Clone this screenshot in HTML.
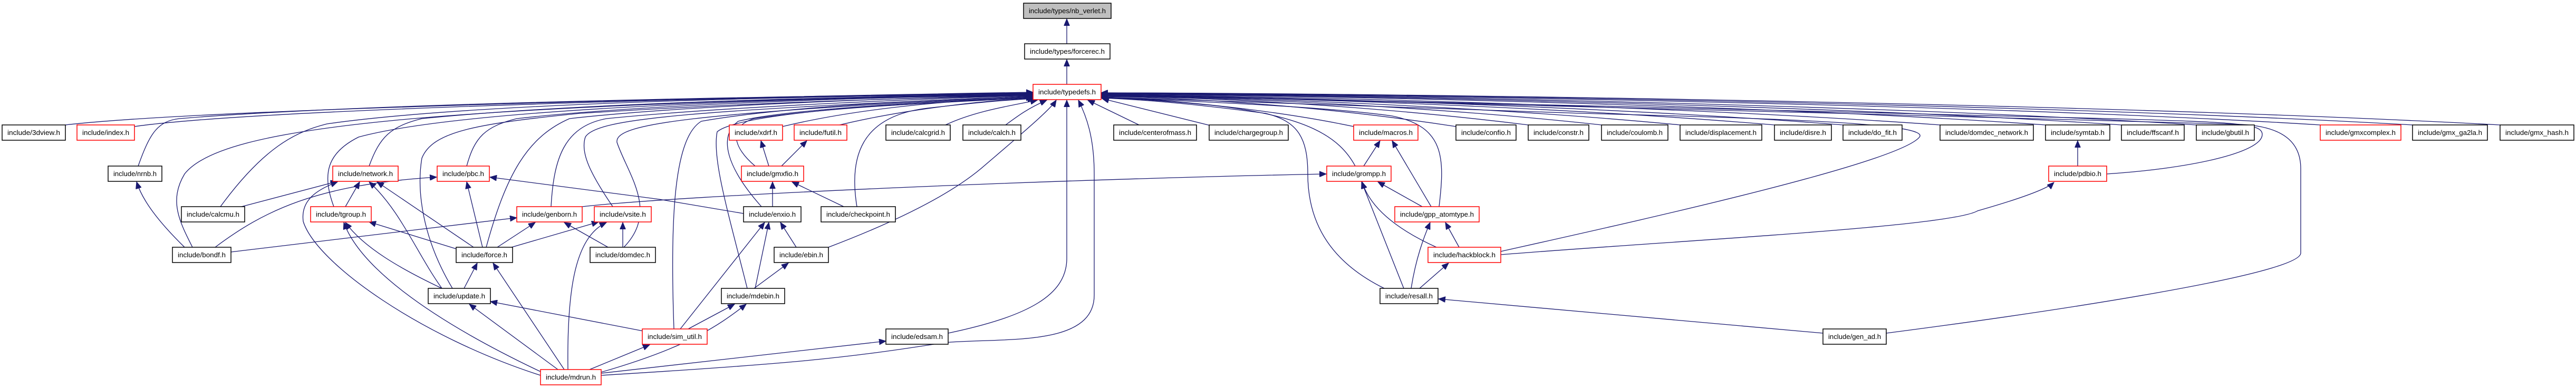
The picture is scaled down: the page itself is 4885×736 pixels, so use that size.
<!DOCTYPE html>
<html><head><meta charset="utf-8"><style>
html,body{margin:0;padding:0;background:#fff;}
svg{display:block;}
text{font-family:"Liberation Sans",sans-serif;font-size:13px;fill:#000;}
.e{fill:none;stroke:#191970;stroke-width:1.3;marker-end:url(#a);}
.b{fill:#fff;stroke:#000;stroke-width:1.5;}
.r{fill:#fff;stroke:#ff0000;stroke-width:1.5;}
</style></head><body>
<svg width="4885" height="736" viewBox="0 0 4885 736" xmlns="http://www.w3.org/2000/svg">
<defs><marker id="a" markerUnits="userSpaceOnUse" markerWidth="14" markerHeight="11" refX="13" refY="5.5" orient="auto"><path d="M0,0 L13,5.5 L0,11 Z" fill="#191970" stroke="#191970"/></marker></defs>
<g>
<path class="e" d="M2023,83 L2023,36"/>
<path class="e" d="M2023,160 L2023,113"/>
<path class="e" d="M124,237 C400,205 1500,182 1959,175"/>
<path class="e" d="M255,240 C500,205 1500,182 1959,176"/>
<path class="e" d="M262,315 C285,250 300,230 340,225 C700,195 1500,182 1959,177"/>
<path class="e" d="M365,469 C340,420 320,380 350,330 C420,240 800,200 1959,178"/>
<path class="e" d="M418,392 C500,280 560,250 620,235 C900,195 1500,183 1959,178"/>
<path class="e" d="M700,315 C720,260 740,240 800,225 C1100,195 1600,183 1959,179"/>
<path class="e" d="M633,392 C610,330 620,290 680,260 C900,200 1600,185 1959,179"/>
<path class="e" d="M885,315 C900,260 920,240 980,225 C1200,200 1600,185 1959,180"/>
<path class="e" d="M922,469 C960,330 1000,260 1080,225 C1300,200 1700,186 1959,180"/>
<path class="e" d="M858,547 C800,450 790,360 800,300 C820,250 900,235 1100,215 C1500,190 1800,185 1959,181"/>
<path class="e" d="M1045,392 C1050,300 1070,240 1150,225 C1400,200 1800,186 1959,181"/>
<path class="e" d="M1162,392 C1120,330 1100,290 1110,260 C1130,225 1300,210 1959,182"/>
<path class="e" d="M1183,469 C1250,400 1190,330 1170,270 C1165,235 1300,215 1959,182"/>
<path class="e" d="M1278,624 C1270,400 1280,260 1330,230 C1500,200 1800,188 1959,183"/>
<path class="e" d="M1417,547 C1380,400 1350,300 1360,250 C1400,215 1700,195 1959,184"/>
<path class="e" d="M1444,392 C1380,320 1360,260 1400,230 C1500,205 1800,192 1959,184"/>
<path class="e" d="M1432,315 C1390,280 1380,240 1430,225 C1600,200 1800,195 1959,185"/>
<path class="e" d="M1484,240 C1650,200 1850,188 1959,185"/>
<path class="e" d="M1580,240 C1720,205 1880,190 1962,186"/>
<path class="e" d="M1625,392 C1610,300 1630,220 1760,205 C1850,195 1900,190 1962,187"/>
<path class="e" d="M1793,237 C1850,210 1920,200 1967,190"/>
<path class="e" d="M1907,237 C1930,220 1950,205 1985,190"/>
<path class="e" d="M1571,469 C1700,420 1800,370 1860,320 C1930,260 1990,210 2003,190"/>
<path class="e" d="M1798,632 C1950,600 2023,560 2023,490 L2023,190"/>
<path class="e" d="M1140,712 C1500,690 1600,680 1790,650 C1900,640 2075,660 2075,560 L2075,330 C2075,260 2060,220 2045,190"/>
<path class="e" d="M2160,237 L2063,190"/>
<path class="e" d="M2303,240 L2090,187"/>
<path class="e" d="M2567,240 C2400,205 2200,188 2088,184"/>
<path class="e" d="M2761,240 C2500,200 2250,185 2088,183"/>
<path class="e" d="M2898,237 C2600,200 2300,185 2088,182"/>
<path class="e" d="M3037,237 C2700,200 2300,184 2088,182"/>
<path class="e" d="M3186,237 C2800,200 2300,183 2088,181"/>
<path class="e" d="M3365,237 C2900,198 2300,182 2088,181"/>
<path class="e" d="M3495,237 C3000,198 2300,181 2088,180"/>
<path class="e" d="M3679,237 C3100,196 2300,180 2088,179"/>
<path class="e" d="M3879,237 C3300,196 2400,180 2088,178"/>
<path class="e" d="M4023,237 C3400,195 2400,179 2088,178"/>
<path class="e" d="M4165,237 C3500,194 2400,178 2088,177"/>
<path class="e" d="M4400,237 C3700,194 2500,178 2088,177"/>
<path class="e" d="M4575,237 C3800,193 2500,177 2088,176"/>
<path class="e" d="M4741,237 C3900,192 2500,176 2088,176"/>
<path class="e" d="M2570,315 C2540,260 2480,220 2300,200 C2200,190 2120,186 2088,185"/>
<path class="e" d="M2729,392 C2740,300 2740,240 2640,220 C2500,200 2200,190 2088,184"/>
<path class="e" d="M2625,547 C2530,500 2480,430 2480,330 C2480,260 2460,230 2400,215 C2250,195 2150,188 2088,186"/>
<path class="e" d="M2846,477 C3100,420 3600,310 3640,260 C3660,235 3400,225 3000,215 C2600,200 2200,186 2088,184"/>
<path class="e" d="M3995,330 C4150,320 4290,290 4290,255 C4290,235 4250,232 4000,225 C3500,210 2500,190 2088,180"/>
<path class="e" d="M3577,632 C3900,590 4363,520 4363,480 L4363,320 C4363,270 4330,240 4250,236 C3500,215 2500,188 2088,179"/>
<path class="e" d="M2846,483 C3200,455 3700,430 3750,400 C3820,380 3880,360 3895,346"/>
<path class="e" d="M1104,392 C1300,370 2000,340 2515,330"/>
<path class="e" d="M1410,405 L1250,378 L929,336"/>
<path class="e" d="M350,469 C300,420 270,380 259,345"/>
<path class="e" d="M458,392 L640,344"/>
<path class="e" d="M655,392 L682,345"/>
<path class="e" d="M898,469 L715,345"/>
<path class="e" d="M838,547 C790,480 760,400 700,345"/>
<path class="e" d="M1025,712 C800,640 600,500 575,420 C570,380 600,360 640,345"/>
<path class="e" d="M408,469 C500,400 600,350 828,336"/>
<path class="e" d="M915,469 L885,345"/>
<path class="e" d="M865,472 L700,421"/>
<path class="e" d="M838,547 C760,510 690,470 655,422"/>
<path class="e" d="M1040,712 C800,600 680,500 652,422"/>
<path class="e" d="M438,478 L980,413"/>
<path class="e" d="M943,469 L1015,422"/>
<path class="e" d="M1153,469 L1070,422"/>
<path class="e" d="M970,469 L1135,421"/>
<path class="e" d="M1181,469 L1181,422"/>
<path class="e" d="M1077,701 C1075,550 1090,450 1150,422"/>
<path class="e" d="M880,547 L905,499"/>
<path class="e" d="M1070,701 L935,499"/>
<path class="e" d="M1220,628 L930,572"/>
<path class="e" d="M1058,701 L890,577"/>
<path class="e" d="M1118,701 L1232,654"/>
<path class="e" d="M1458,315 L1443,267"/>
<path class="e" d="M1482,315 L1530,267"/>
<path class="e" d="M1465,392 L1465,345"/>
<path class="e" d="M1600,392 L1502,345"/>
<path class="e" d="M1510,469 L1480,422"/>
<path class="e" d="M1432,547 L1458,422"/>
<path class="e" d="M1290,624 L1450,422"/>
<path class="e" d="M1430,547 L1495,499"/>
<path class="e" d="M1305,624 L1393,577"/>
<path class="e" d="M1140,706 C1300,660 1360,620 1415,577"/>
<path class="e" d="M1140,708 L1680,647"/>
<path class="e" d="M2586,315 L2617,267"/>
<path class="e" d="M2714,392 L2640,267"/>
<path class="e" d="M2697,392 L2613,345"/>
<path class="e" d="M2724,469 C2660,440 2600,400 2583,345"/>
<path class="e" d="M2662,547 L2582,345"/>
<path class="e" d="M2767,469 L2741,422"/>
<path class="e" d="M2676,547 C2685,490 2700,450 2712,422"/>
<path class="e" d="M2692,547 L2747,499"/>
<path class="e" d="M3457,632 L2728,567"/>
<path class="e" d="M3940,315 L3940,267"/>
</g>
<g>
<rect x="1941" y="6" width="166" height="29" fill="#bfbfbf" stroke="#000" stroke-width="1.5"/><text x="1951" y="25" textLength="146" lengthAdjust="spacingAndGlyphs">include/types/nb_verlet.h</text>
<rect class="b" x="1943" y="83" width="162" height="29"/><text x="1953" y="102" textLength="142" lengthAdjust="spacingAndGlyphs">include/types/forcerec.h</text>
<rect class="r" x="1959" y="160" width="129" height="29"/><text x="1969" y="179" textLength="109" lengthAdjust="spacingAndGlyphs">include/typedefs.h</text>

<rect class="b" x="4" y="237" width="120" height="29"/><text x="14" y="256" textLength="100" lengthAdjust="spacingAndGlyphs">include/3dview.h</text>
<rect class="r" x="146" y="237" width="109" height="29"/><text x="156" y="256" textLength="89" lengthAdjust="spacingAndGlyphs">include/index.h</text>
<rect class="r" x="1383" y="237" width="101" height="29"/><text x="1393" y="256" textLength="81" lengthAdjust="spacingAndGlyphs">include/xdrf.h</text>
<rect class="r" x="1506" y="237" width="100" height="29"/><text x="1516" y="256" textLength="80" lengthAdjust="spacingAndGlyphs">include/futil.h</text>
<rect class="b" x="1680" y="237" width="122" height="29"/><text x="1690" y="256" textLength="102" lengthAdjust="spacingAndGlyphs">include/calcgrid.h</text>
<rect class="b" x="1826" y="237" width="110" height="29"/><text x="1836" y="256" textLength="90" lengthAdjust="spacingAndGlyphs">include/calch.h</text>
<rect class="b" x="2112" y="237" width="157" height="29"/><text x="2122" y="256" textLength="137" lengthAdjust="spacingAndGlyphs">include/centerofmass.h</text>
<rect class="b" x="2293" y="237" width="150" height="29"/><text x="2303" y="256" textLength="130" lengthAdjust="spacingAndGlyphs">include/chargegroup.h</text>
<rect class="r" x="2567" y="237" width="122" height="29"/><text x="2577" y="256" textLength="102" lengthAdjust="spacingAndGlyphs">include/macros.h</text>
<rect class="b" x="2761" y="237" width="114" height="29"/><text x="2771" y="256" textLength="94" lengthAdjust="spacingAndGlyphs">include/confio.h</text>
<rect class="b" x="2898" y="237" width="115" height="29"/><text x="2908" y="256" textLength="95" lengthAdjust="spacingAndGlyphs">include/constr.h</text>
<rect class="b" x="3037" y="237" width="126" height="29"/><text x="3047" y="256" textLength="106" lengthAdjust="spacingAndGlyphs">include/coulomb.h</text>
<rect class="b" x="3186" y="237" width="155" height="29"/><text x="3196" y="256" textLength="135" lengthAdjust="spacingAndGlyphs">include/displacement.h</text>
<rect class="b" x="3365" y="237" width="108" height="29"/><text x="3375" y="256" textLength="88" lengthAdjust="spacingAndGlyphs">include/disre.h</text>
<rect class="b" x="3495" y="237" width="112" height="29"/><text x="3505" y="256" textLength="92" lengthAdjust="spacingAndGlyphs">include/do_fit.h</text>
<rect class="b" x="3679" y="237" width="177" height="29"/><text x="3689" y="256" textLength="157" lengthAdjust="spacingAndGlyphs">include/domdec_network.h</text>
<rect class="b" x="3879" y="237" width="122" height="29"/><text x="3889" y="256" textLength="102" lengthAdjust="spacingAndGlyphs">include/symtab.h</text>
<rect class="b" x="4023" y="237" width="119" height="29"/><text x="4033" y="256" textLength="99" lengthAdjust="spacingAndGlyphs">include/ffscanf.h</text>
<rect class="b" x="4165" y="237" width="110" height="29"/><text x="4175" y="256" textLength="90" lengthAdjust="spacingAndGlyphs">include/gbutil.h</text>
<rect class="r" x="4400" y="237" width="153" height="29"/><text x="4410" y="256" textLength="133" lengthAdjust="spacingAndGlyphs">include/gmxcomplex.h</text>
<rect class="b" x="4575" y="237" width="142" height="29"/><text x="4585" y="256" textLength="122" lengthAdjust="spacingAndGlyphs">include/gmx_ga2la.h</text>
<rect class="b" x="4741" y="237" width="140" height="29"/><text x="4751" y="256" textLength="120" lengthAdjust="spacingAndGlyphs">include/gmx_hash.h</text>

<rect class="b" x="205" y="315" width="102" height="29"/><text x="215" y="334" textLength="82" lengthAdjust="spacingAndGlyphs">include/nrnb.h</text>
<rect class="r" x="631" y="315" width="124" height="29"/><text x="641" y="334" textLength="104" lengthAdjust="spacingAndGlyphs">include/network.h</text>
<rect class="r" x="829" y="315" width="99" height="29"/><text x="839" y="334" textLength="79" lengthAdjust="spacingAndGlyphs">include/pbc.h</text>
<rect class="r" x="1406" y="315" width="118" height="29"/><text x="1416" y="334" textLength="98" lengthAdjust="spacingAndGlyphs">include/gmxfio.h</text>
<rect class="r" x="2516" y="315" width="122" height="29"/><text x="2526" y="334" textLength="102" lengthAdjust="spacingAndGlyphs">include/grompp.h</text>
<rect class="r" x="3885" y="315" width="110" height="29"/><text x="3895" y="334" textLength="90" lengthAdjust="spacingAndGlyphs">include/pdbio.h</text>

<rect class="b" x="344" y="392" width="120" height="29"/><text x="354" y="411" textLength="100" lengthAdjust="spacingAndGlyphs">include/calcmu.h</text>
<rect class="r" x="589" y="392" width="115" height="29"/><text x="599" y="411" textLength="95" lengthAdjust="spacingAndGlyphs">include/tgroup.h</text>
<rect class="r" x="980" y="392" width="124" height="29"/><text x="990" y="411" textLength="104" lengthAdjust="spacingAndGlyphs">include/genborn.h</text>
<rect class="r" x="1127" y="392" width="108" height="29"/><text x="1137" y="411" textLength="88" lengthAdjust="spacingAndGlyphs">include/vsite.h</text>
<rect class="b" x="1410" y="392" width="109" height="29"/><text x="1420" y="411" textLength="89" lengthAdjust="spacingAndGlyphs">include/enxio.h</text>
<rect class="b" x="1557" y="392" width="141" height="29"/><text x="1567" y="411" textLength="121" lengthAdjust="spacingAndGlyphs">include/checkpoint.h</text>
<rect class="r" x="2645" y="392" width="160" height="29"/><text x="2655" y="411" textLength="140" lengthAdjust="spacingAndGlyphs">include/gpp_atomtype.h</text>

<rect class="b" x="327" y="469" width="111" height="29"/><text x="337" y="488" textLength="91" lengthAdjust="spacingAndGlyphs">include/bondf.h</text>
<rect class="b" x="865" y="469" width="107" height="29"/><text x="875" y="488" textLength="87" lengthAdjust="spacingAndGlyphs">include/force.h</text>
<rect class="b" x="1119" y="469" width="124" height="29"/><text x="1129" y="488" textLength="104" lengthAdjust="spacingAndGlyphs">include/domdec.h</text>
<rect class="b" x="1468" y="469" width="103" height="29"/><text x="1478" y="488" textLength="83" lengthAdjust="spacingAndGlyphs">include/ebin.h</text>
<rect class="r" x="2708" y="469" width="138" height="29"/><text x="2718" y="488" textLength="118" lengthAdjust="spacingAndGlyphs">include/hackblock.h</text>

<rect class="b" x="812" y="547" width="118" height="29"/><text x="822" y="566" textLength="98" lengthAdjust="spacingAndGlyphs">include/update.h</text>
<rect class="b" x="1368" y="547" width="120" height="29"/><text x="1378" y="566" textLength="100" lengthAdjust="spacingAndGlyphs">include/mdebin.h</text>
<rect class="b" x="2617" y="547" width="110" height="29"/><text x="2627" y="566" textLength="90" lengthAdjust="spacingAndGlyphs">include/resall.h</text>

<rect class="r" x="1218" y="624" width="123" height="29"/><text x="1228" y="643" textLength="103" lengthAdjust="spacingAndGlyphs">include/sim_util.h</text>
<rect class="b" x="1680" y="624" width="118" height="29"/><text x="1690" y="643" textLength="98" lengthAdjust="spacingAndGlyphs">include/edsam.h</text>
<rect class="b" x="3457" y="624" width="120" height="29"/><text x="3467" y="643" textLength="100" lengthAdjust="spacingAndGlyphs">include/gen_ad.h</text>

<rect class="r" x="1025" y="701" width="115" height="29"/><text x="1035" y="720" textLength="95" lengthAdjust="spacingAndGlyphs">include/mdrun.h</text>
</g>
</svg>
</body></html>
